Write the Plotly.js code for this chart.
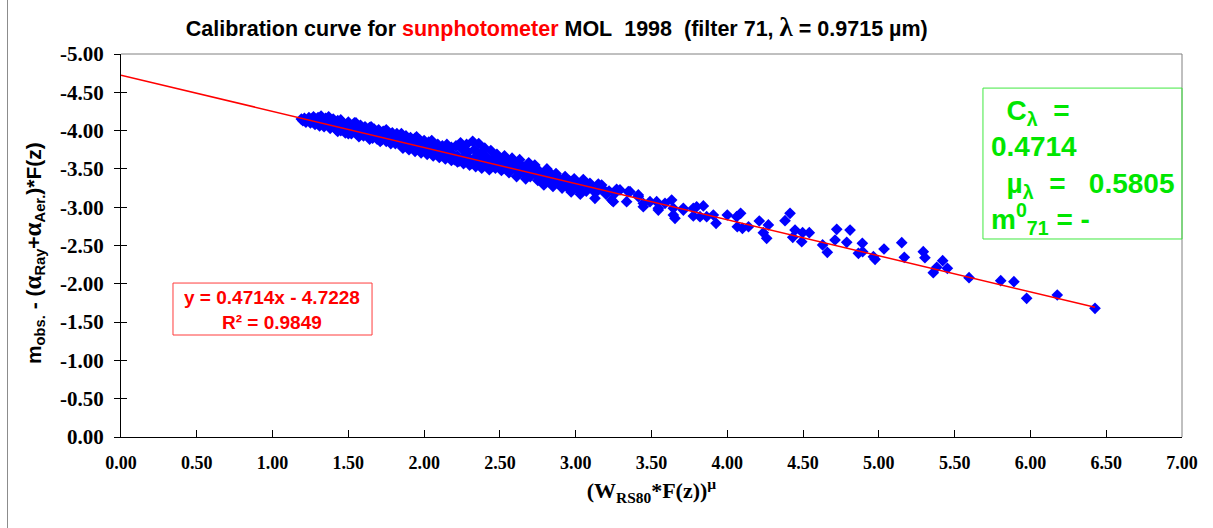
<!DOCTYPE html>
<html>
<head>
<meta charset="utf-8">
<script src="https://cdn.plot.ly/plotly-3.0.1.min.js"></script>
<style>
  html, body { margin: 0; padding: 0; background: #ffffff; }
  #wrap { position: relative; width: 1213px; height: 528px; }
  #chart { width: 1213px; height: 528px; }
  #frame { position: absolute; left: 7px; top: 0; width: 1px; height: 528px; background: #8c8c8c; }
</style>
</head>
<body>
<div id="wrap"><div id="chart"></div><div id="frame"></div></div>
<script>
// ---- data ----
const obsX = [
1.19,1.20,1.21,1.22,1.23,1.24,1.25,1.26,1.27,1.28,1.29,1.30,1.31,1.32,1.33,1.34,1.35,1.36,1.37,1.38,
1.39,1.40,1.41,1.42,1.43,1.44,1.45,1.46,1.47,1.48,1.49,1.50,1.51,1.52,1.53,1.54,1.55,1.56,1.57,1.58,
1.59,1.60,1.61,1.62,1.63,1.64,1.65,1.66,1.67,1.68,1.69,1.70,1.71,1.72,1.73,1.74,1.75,1.76,1.77,1.78,
1.79,1.80,1.81,1.82,1.83,1.84,1.85,1.86,1.87,1.88,1.89,1.90,1.91,1.92,1.93,1.94,1.95,1.96,1.97,1.98,
1.99,2.00,2.01,2.02,2.03,2.04,2.05,2.06,2.07,2.08,2.09,2.10,2.11,2.12,2.13,2.14,2.15,2.16,2.17,2.18,
2.19,2.20,2.21,2.22,2.23,2.24,2.25,2.26,2.27,2.28,2.29,2.30,2.31,2.32,2.33,2.34,2.35,2.36,2.37,2.38,
2.39,2.40,2.41,2.42,2.44,2.45,2.47,2.48,2.50,2.51,2.53,2.55,2.56,2.58,2.60,2.61,2.63,2.65,2.67,2.69,
2.71,2.73,2.75,2.77,2.79,2.81,2.83,2.85,2.87,2.89,2.91,2.93,2.95,2.97,2.99,3.01,3.03,3.05,
1.43,1.50,1.57,1.64,1.71,1.78,1.86,1.90,1.94,1.98,2.02,2.06,2.10,2.14,2.18,2.22,2.26,2.30,2.34,2.38,2.43,
1.45,1.55,1.65,1.75,1.85,1.95,2.05,2.15,
2.43,2.46,2.49,2.52,2.54,2.57,2.59,2.62,2.64,2.66,2.68,2.70,2.72,2.74,2.76,2.78,2.80,2.82,2.84,2.86,
2.88,2.90,2.92,2.94,2.96,2.98,3.00,3.02,3.04,3.07,3.10,3.13,3.16,3.20,3.22,
3.094,3.127,3.149,3.171,3.182,3.237,3.248,3.259,3.270,3.292,3.336,3.347,3.358,3.413,3.413,3.446,3.446,3.490,
3.534,3.545,3.545,3.589,3.633,3.644,3.644,3.655,3.710,3.710,3.776,3.776,3.798,3.820,3.842,3.864,3.908,3.926,
4.000,4.062,4.088,4.066,4.100,4.140,4.211,4.238,4.260,4.271,4.381,4.414,4.447,4.432,4.491,4.497,4.541,4.629,
4.660,4.711,4.722,4.788,4.810,4.865,4.891,4.893,4.964,4.975,5.034,5.151,5.168,5.293,5.304,5.359,5.382,5.421,
5.452,5.595,5.804,5.891,5.975,6.177,6.426
];
const obsY = [
-4.15,-4.13,-4.16,-4.11,-4.14,-4.17,-4.10,-4.15,-4.18,-4.08,-4.13,-4.17,-4.06,-4.19,-4.12,-4.05,-4.16,-4.10,-4.18,-4.03,
-4.12,-4.15,-4.07,-4.01,-4.13,-4.09,-4.00,-4.11,-4.05,-3.97,-4.08,-4.11,-4.02,-3.96,-4.07,-4.10,-4.00,-3.95,-4.04,-4.07,
-3.98,-3.93,-4.05,-4.00,-3.92,-4.04,-3.97,-3.90,-4.02,-3.96,-3.89,-4.01,-3.94,-3.88,-3.99,-3.92,-3.86,-3.98,-3.91,-3.85,
-3.97,-3.90,-3.83,-3.96,-3.88,-3.82,-3.94,-3.87,-3.80,-3.93,-3.85,-3.79,-3.91,-3.84,-3.77,-3.90,-3.82,-3.76,-3.88,-3.81,
-3.75,-3.87,-3.79,-3.73,-3.85,-3.78,-3.71,-3.84,-3.76,-3.70,-3.82,-3.74,-3.67,-3.80,-3.72,-3.66,-3.79,-3.71,-3.64,-3.78,
-3.69,-3.62,-3.80,-3.67,-3.60,-3.84,-3.76,-3.65,-3.59,-3.82,-3.72,-3.63,-3.57,-3.86,-3.75,-3.66,-3.56,-3.83,-3.70,-3.61,
-3.54,-3.77,-3.66,-3.53,-3.74,-3.62,-3.51,-3.69,-3.58,-3.48,-3.67,-3.57,-3.45,-3.64,-3.54,-3.40,-3.62,-3.50,-3.37,-3.58,
-3.47,-3.55,-3.35,-3.44,-3.29,-3.50,-3.41,-3.27,-3.44,-3.37,-3.25,-3.40,-3.33,-3.20,-3.37,-3.30,-3.17,-3.36,
-3.99,-3.96,-3.92,-3.89,-3.86,-3.83,-3.77,-3.75,-3.73,-3.71,-3.69,-3.67,-3.65,-3.63,-3.61,-3.59,-3.57,-3.55,-3.53,-3.51,-3.49,
-4.14,-4.10,-4.05,-4.01,-3.96,-3.92,-3.87,-3.82,
-3.60,-3.55,-3.63,-3.52,-3.60,-3.49,-3.57,-3.46,-3.55,-3.43,-3.51,-3.40,-3.49,-3.42,-3.47,-3.36,-3.44,-3.34,-3.43,-3.32,
-3.39,-3.30,-3.36,-3.27,-3.34,-3.25,-3.31,-3.23,-3.29,-3.21,-3.26,-3.19,-3.24,-3.17,-3.21,
-3.312,-3.116,-3.303,-3.290,-3.234,-3.094,-3.072,-3.181,-3.234,-3.225,-3.072,-3.203,-3.203,-3.138,-3.160,-3.051,-3.006,-3.072,
-3.072,-2.986,-2.963,-3.051,-3.094,-2.986,-2.898,-2.855,-2.986,-2.963,-2.986,-2.885,-3.006,-2.876,-3.016,-2.876,-2.898,-2.790,
-2.898,-2.876,-2.920,-2.745,-2.724,-2.745,-2.820,-2.668,-2.594,-2.768,-2.824,-2.920,-2.702,-2.607,-2.550,-2.668,-2.668,-2.507,
-2.411,-2.572,-2.711,-2.542,-2.702,-2.398,-2.529,-2.419,-2.354,-2.320,-2.454,-2.537,-2.346,-2.419,-2.341,-2.145,-2.215,-2.302,
-2.202,-2.080,-2.041,-2.028,-1.811,-1.854,-1.680
];
// linear trendline shown on the chart: y = 0.4714x - 4.7228
const fitSlope = 0.4714;
const fitIntercept = -4.7228;
const fitX = [0, 6.426];
const fitY = fitX.map(v => fitSlope * v + fitIntercept);

const xTickVals = [0,0.5,1,1.5,2,2.5,3,3.5,4,4.5,5,5.5,6,6.5,7];
const xTickText = ["0.00","0.50","1.00","1.50","2.00","2.50","3.00","3.50","4.00","4.50","5.00","5.50","6.00","6.50","7.00"];
const yTickVals = [0,-0.5,-1,-1.5,-2,-2.5,-3,-3.5,-4,-4.5,-5];
const yTickText = ["0.00","-0.50","-1.00","-1.50","-2.00","-2.50","-3.00","-3.50","-4.00","-4.50","-5.00"];

const titleText = "Calibration curve for <span style=\"color:#ff0000\">sunphotometer</span> MOL\u00a0 1998\u00a0 (filter 71, <span style=\"font-family:'Liberation Serif';font-size:27px\">\u03bb</span> = 0.9715 \u00b5m)";
const xTitleText = "(W<sub>RS80</sub>*F(z))<sup>\u00b5</sup>";
const yTitleText = "m<sub>obs.</sub> - (<span style=\"font-family:'Liberation Serif';font-size:25px\">\u03b1</span><sub>Ray</sub>+<span style=\"font-family:'Liberation Serif';font-size:25px\">\u03b1</span><sub>Aer.</sub>)*F(z)";
const fitLabel1 = "y = 0.4714x - 4.7228";
const fitLabel2 = "R\u00b2 = 0.9849";
const paramText = "\u00a0\u00a0C<sub>\u03bb</sub>\u00a0\u00a0=<br>0.4714<br>\u00a0\u00a0\u00b5<sub>\u03bb</sub>\u00a0\u00a0=\u00a0\u00a0\u00a00.5805<br>m<sup>0</sup><sub>71</sub>\u00a0=\u00a0-";

const SANS = "'Liberation Sans', Arial, sans-serif";
const SERIF = "'Liberation Serif', 'Times New Roman', serif";

const traces = [
  {
    type: "scatter", mode: "markers", x: obsX, y: obsY,
    marker: { symbol: "diamond", size: 9, color: "#0000ff", line: { width: 0 } },
    showlegend: false, hoverinfo: "x+y"
  },
  {
    type: "scatter", mode: "lines", x: fitX, y: fitY,
    line: { color: "#ff0000", width: 1.5 },
    showlegend: false, hoverinfo: "skip"
  },
  {
    type: "scatter", mode: "markers", x: [null], y: [null], yaxis: "y2",
    showlegend: false, hoverinfo: "skip"
  }
];

const layout = {
  width: 1213, height: 528,
  margin: { l: 121, r: 31, t: 54, b: 91 },
  paper_bgcolor: "#ffffff", plot_bgcolor: "#ffffff",
  showlegend: false,
  title: {
    text: titleText, x: 0.459, xanchor: "center", y: 0.947, yanchor: "middle",
    font: { family: SANS, size: 21.5, weight: "bold", color: "#000000" }
  },
  xaxis: {
    range: [0, 7], tickmode: "array", tickvals: xTickVals, ticktext: xTickText,
    ticks: "inside", ticklen: 7, tickcolor: "#000000", tickwidth: 1,
    showline: true, linecolor: "#000000", linewidth: 1,
    showgrid: false, zeroline: false, ticklabelstandoff: 9,
    tickfont: { family: SERIF, size: 18, weight: "bold", color: "#000000" },
    title: { text: xTitleText, standoff: 11, font: { family: SERIF, size: 22, weight: "bold", color: "#000000" } }
  },
  yaxis: {
    range: [0, -5], tickmode: "array", tickvals: yTickVals, ticktext: yTickText,
    ticks: "outside", ticklen: 6, tickcolor: "#000000", tickwidth: 1,
    showline: true, linecolor: "#000000", linewidth: 1,
    showgrid: false, zeroline: false, ticklabelstandoff: 6,
    tickfont: { family: SERIF, size: 21, weight: "bold", color: "#000000" }
  },
  yaxis2: {
    overlaying: "y", side: "left", anchor: "x", range: [0, -5],
    tickmode: "array", tickvals: yTickVals, ticks: "inside", ticklen: 6, tickcolor: "#000000",
    showticklabels: false, showline: false, showgrid: false, zeroline: false
  },
  shapes: [
    { type: "line", xref: "paper", yref: "paper", x0: 0, x1: 1, y0: 1, y1: 1, line: { color: "#808080", width: 1 } },
    { type: "line", xref: "paper", yref: "paper", x0: 1, x1: 1, y0: 0, y1: 1, line: { color: "#808080", width: 1 } },
    { type: "rect", xref: "paper", yref: "paper", x0: 0.049, x1: 0.2366, y0: 0.2663, y1: 0.402,
      line: { color: "#ff3c3c", width: 1 }, fillcolor: "#ffffff", layer: "above" },
    { type: "rect", xref: "paper", yref: "paper", x0: 0.8124, x1: 1.0, y0: 0.517, y1: 0.911,
      line: { color: "#40e840", width: 1 }, fillcolor: "rgba(255,255,255,0)", layer: "above" }
  ],
  annotations: [
    { xref: "paper", yref: "paper", x: -0.083, y: 0.48, xanchor: "center", yanchor: "middle",
      textangle: -90, text: yTitleText, showarrow: false,
      font: { family: SANS, size: 21, weight: "bold", color: "#000000" } },
    { xref: "paper", yref: "paper", x: 0.1423, y: 0.363, xanchor: "center", yanchor: "middle",
      text: fitLabel1, showarrow: false, font: { family: SANS, size: 19, weight: "bold", color: "#ff0000" } },
    { xref: "paper", yref: "paper", x: 0.1423, y: 0.300, xanchor: "center", yanchor: "middle",
      text: fitLabel2, showarrow: false, font: { family: SANS, size: 19, weight: "bold", color: "#ff0000" } },
    { xref: "paper", yref: "paper", x: 0.818, y: 0.7037, xanchor: "left", yanchor: "middle", align: "left",
      text: paramText, showarrow: false, font: { family: SANS, size: 28, weight: "bold", color: "#00e600" } }
  ]
};

Plotly.newPlot("chart", traces, layout, { displayModeBar: false, staticPlot: true });
</script>
</body>
</html>
